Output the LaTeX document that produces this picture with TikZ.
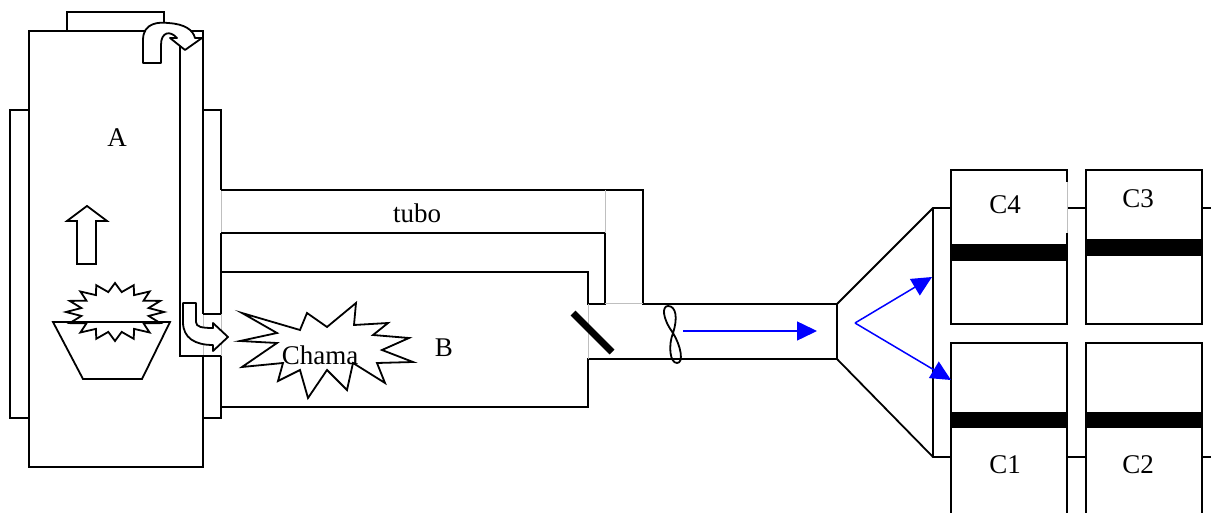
\documentclass[tikz,border=0pt]{standalone}
\usepackage{fontspec}
\setmainfont{Liberation Serif}
\usetikzlibrary{arrows.meta}
\tikzset{
  wall/.style ={draw=black, line width=1.8pt},
  seam/.style ={draw=black!25, line width=1pt},
  barr/.style ={draw=black, line width=1.8pt, fill=white, line join=round},
  flw/.style  ={-{Triangle[length=20pt,width=19pt]}, draw=blue, line width=1.5pt},
  lbl/.style  ={font=\fontsize{27}{30}\selectfont, inner sep=0pt},
}
\begin{document}
\begin{tikzpicture}[x=1pt,y=-1pt]
\useasboundingbox (0,0) rectangle (1211,513);

% furnace A with its side panels and rising pipe
\draw[wall] (67,31) rectangle (164,12);
\draw[wall] (203,314) -- (203,31) -- (29,31) -- (29,467) -- (203,467) -- (203,356);
\draw[wall] (10,110) rectangle (29,418);
\draw[wall] (203,110) -- (221,110) -- (221,190) (221,233) -- (221,314) (221,356) -- (221,418) -- (203,418);
\draw[seam] (221,190) -- (221,233) (221,314) -- (221,356) (203,314) -- (203,356);
\draw[wall] (180,31) -- (180,356) -- (221,356) (203,314) -- (221,314);

\draw[wall] (77,264) -- (77,221) -- (67,221) -- (87,206) -- (107,221) -- (96,221) -- (96,264) -- cycle;
\draw[wall] plot[samples at={0,...,31}] ({115+(1-0.3*mod(\x,2))*49*cos(\x*11.25)},{312+(1-0.3*mod(\x,2))*29*sin(\x*11.25)}) -- cycle;
\draw[wall] (53,322) -- (170,322) -- (142,379) -- (83,379) -- cycle;

\draw[barr] (143,63) -- (143,40) .. controls (143,22) and (160,22) .. (168,23)
  .. controls (185,24) and (193,30) .. (195,38) -- (202,38) -- (185,50) -- (170,38) -- (177,38)
  .. controls (170,30) and (161,32) .. (161,45) -- (161,63) -- cycle;
\draw[barr] (183,303) -- (196,303) -- (196,322) .. controls (196,327) and (202,328) .. (213,328)
  -- (213,323) -- (228,337) -- (213,351) -- (213,345) .. controls (195,345) and (183,338) .. (183,322) -- cycle;

% chamber B, the tube and the duct
\draw[wall] (221,190) -- (643,190) -- (643,304) -- (837,304) -- (837,359) -- (588,359) -- (588,407) -- (221,407);
\draw[wall] (221,233) -- (605,233) -- (605,304) -- (588,304) -- (588,272) -- (221,272);
\draw[seam] (605,190) -- (605,233) (605,304) -- (643,304) (588,304) -- (588,359);

\draw[wall] (242,313) -- (300,330) -- (307,313) -- (327,327) -- (356,303) -- (354,325) -- (388,323)
  -- (373,335) -- (409,338) -- (382,350) -- (413,362) -- (377,363) -- (385,383) -- (353,363)
  -- (347,390) -- (327,370) -- (308,398) -- (300,370) -- (278,381) -- (283,363) -- (242,367)
  -- (277,343) -- (240,341) -- (277,333) -- cycle;

\draw[line width=7pt] (573,313) -- (612,352);
\draw[wall] (673,333) .. controls (662,318) and (662,306) .. (668,306) .. controls (676,306) and (678,318) .. (673,333)
  .. controls (668,346) and (670,363) .. (677,363) .. controls (684,363) and (681,346) .. (673,333);

% hood and chambers C
\draw[wall] (837,304) -- (933,208) -- (951,208) (837,359) -- (933,457) -- (951,457) (933,208) -- (933,457);

\draw[wall] (1067,182) -- (1067,170) -- (951,170) -- (951,324) -- (1067,324) -- (1067,233);
\draw[seam] (1067,182) -- (1067,233);
\draw[wall] (1086,170) rectangle (1202,324);
\draw[wall] (951,513) -- (951,343) -- (1067,343) -- (1067,513);
\draw[wall] (1086,513) -- (1086,343) -- (1202,343) -- (1202,513);
\fill (951,244) rectangle (1067,261);
\fill (1086,239) rectangle (1202,256);
\fill (951,412) rectangle (1067,428);
\fill (1086,412) rectangle (1202,428);
\draw[wall] (1068,208) -- (1086,208) (1202,208) -- (1211,208) (1067,457) -- (1086,457) (1202,457) -- (1211,457);

% air flow
\coordinate (fanout) at (683,331);
\coordinate (hoodin) at (817,331);
\coordinate (split) at (855,323);
\coordinate (toC4) at (932,277);
\coordinate (toC1) at (951,380);
\draw[flw] (fanout) -- (hoodin);
\draw[flw] (split) -- (toC4);
\draw[flw] (split) -- (toC1);

\node[lbl] (lA) at (117,138) {A};
\node[lbl] (lB) at (444,348) {B};
\node[lbl] (ltubo) at (417,213) {tubo};
\node[lbl] (lchama) at (320,355) {Chama};
\node[lbl] (lc4) at (1005,205) {C4};
\node[lbl] (lc3) at (1138,199) {C3};
\node[lbl] (lc1) at (1005,465) {C1};
\node[lbl] (lc2) at (1138,465) {C2};
\end{tikzpicture}
\end{document}
